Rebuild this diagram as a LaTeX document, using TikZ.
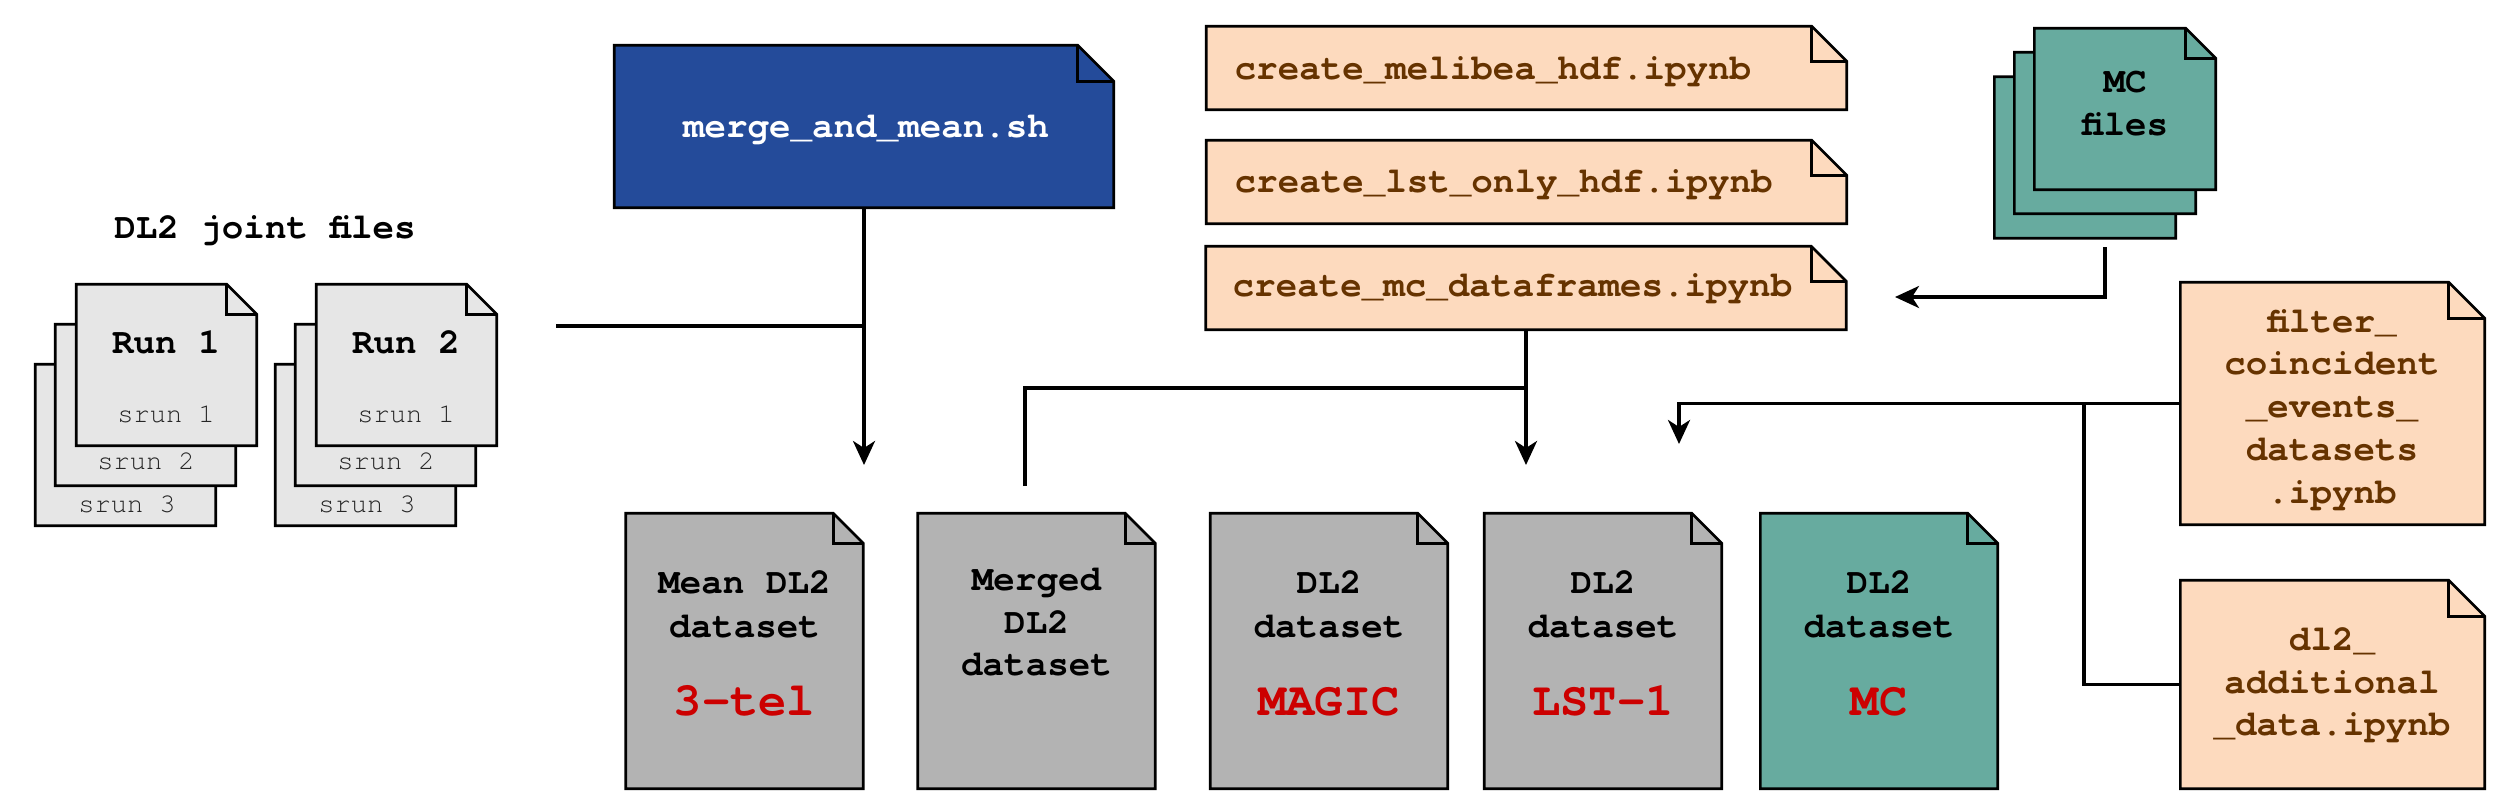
\documentclass[tikz,border=0pt]{standalone}
\usepackage{fontspec}
\newfontfamily\cour{TeX Gyre Cursor}
\usetikzlibrary{arrows.meta,calc}
\pgfdeclarelayer{bg}
\pgfsetlayers{bg,main}
\definecolor{sheetgray}{HTML}{E6E6E6}
\definecolor{boxgray}{HTML}{B3B3B3}
\definecolor{mcteal}{HTML}{67AB9F}
\definecolor{peach}{HTML}{FDDABE}
\definecolor{mblue}{HTML}{244B9A}
\definecolor{nbrown}{HTML}{663300}
\definecolor{dred}{HTML}{CC0000}
\newcommand\notefold[3]{%
  \filldraw[fill=#3, draw=black, line width=0.75pt, line join=miter]
    (#1.north west) -- ($(#1.north east)+(-#2,0)$) -- ($(#1.north east)+(0,#2)$)
    -- (#1.south east) -- (#1.south west) -- cycle;
  \draw[line width=0.75pt, line join=miter] ($(#1.north east)+(-#2,0)$) -- ($(#1.north east)+(-#2,#2)$) -- ($(#1.north east)+(0,#2)$);
}
\tikzset{
  box/.style 2 args={draw=none, fill=none, inner sep=0, minimum width=#1*0.01cm, minimum height=#2*0.01cm},
  lbl/.style={font=\cour\bfseries\fontsize{10.2}{12}\selectfont, inner sep=0, anchor=base},
  small/.style={font=\cour\fontsize{7.7}{9}\selectfont, inner sep=0, anchor=base, text=black!85},
  redlbl/.style={font=\cour\bfseries\fontsize{13.4}{15}\selectfont, inner sep=0, anchor=base, text=dred},
  conn/.style={line width=1pt, draw=black, line join=miter},
  arr/.style={conn, -{Stealth[length=0.24cm, width=0.22cm, inset=0.07cm]}},
}
\begin{document}
\begin{tikzpicture}[x=0.01cm, y=-0.01cm]
\useasboundingbox (0,0) rectangle (2500,806);

% ---------- DL2 joint files ----------
\node[lbl] (jtitle) at (265,238) {DL2 joint files};
\node[box={179}{160}] (r1c) at (125.5,445) {};
\node[box={179}{160}] (r1b) at (145.5,405) {};
\node[box={179}{160}] (r1a) at (166.5,365) {};
\node[box={179}{160}] (r2c) at (365.5,445) {};
\node[box={179}{160}] (r2b) at (385.5,405) {};
\node[box={179}{160}] (r2a) at (406.5,365) {};
\node[lbl] (r1t) at (166,353) {Run 1};
\node[small] (r1s1) at (166,422) {srun 1};
\node[small] (r1s2) at (146,469) {srun 2};
\node[small] (r1s3) at (127,512) {srun 3};
\node[lbl] (r2t) at (406,353) {Run 2};
\node[small] (r2s1) at (406,422) {srun 1};
\node[small] (r2s2) at (386,469) {srun 2};
\node[small] (r2s3) at (367,512) {srun 3};

% ---------- merge script ----------
\node[box={498}{161}] (merge) at (864,126.5) {};
\node[lbl, text=white] (mergetxt) at (866,137) {merge\_and\_mean.sh};

% ---------- notebooks ----------
\node[box={639}{82}] (melibea) at (1526.5,68) {};
\node[box={639}{82}] (lstonly) at (1526.5,182) {};
\node[box={639}{82}] (mcdf) at (1526,288) {};
\node[lbl, anchor=base west, text=nbrown] at (1234,79) {create\_melibea\_hdf.ipynb};
\node[lbl, anchor=base west, text=nbrown] at (1234,192) {create\_lst\_only\_hdf.ipynb};
\node[lbl, anchor=base west, text=nbrown] at (1232,296) {create\_mc\_dataframes.ipynb};

% ---------- MC files ----------
\node[box={180}{160}] (mcc) at (2085,157.5) {};
\node[box={180}{160}] (mcb) at (2105,133) {};
\node[box={180}{160}] (mca) at (2125,109) {};
\node[lbl] at (2125,92) {MC};
\node[lbl] at (2125,135) {files};

% ---------- filter / dl2 additional ----------
\node[box={303}{241}] (filter) at (2332.5,403.5) {};
\node[lbl, text=nbrown] at (2332,332) {filter\_};
\node[lbl, text=nbrown] at (2332,374) {coincident};
\node[lbl, text=nbrown] at (2332,417) {\_events\_};
\node[lbl, text=nbrown] at (2332,460) {datasets};
\node[lbl, text=nbrown] at (2332,503) {.ipynb};
\node[box={303}{207}] (dladd) at (2332.5,684.5) {};
\node[lbl, text=nbrown] at (2332,650) {dl2\_};
\node[lbl, text=nbrown] at (2332,693) {additional};
\node[lbl, text=nbrown] at (2332,735) {\_data.ipynb};

% ---------- datasets ----------
\node[box={236}{274}] (mean) at (744.5,651) {};
\node[box={236}{274}] (merged) at (1036.5,651) {};
\node[box={236}{274}] (magic) at (1329,651) {};
\node[box={236}{274}] (lst) at (1603,651) {};
\node[box={236}{274}] (mc) at (1879,651) {};
\node[lbl] at (744.5,593) {Mean DL2};
\node[lbl] at (744.5,637) {dataset};
\node[redlbl] at (744.5,715) {3-tel};
\node[lbl] at (1036.5,590) {Merged};
\node[lbl] at (1036.5,633) {DL2};
\node[lbl] at (1036.5,675) {dataset};
\node[lbl] at (1329,593) {DL2};
\node[lbl] at (1329,637) {dataset};
\node[redlbl] at (1329,715) {MAGIC};
\node[lbl] at (1603,593) {DL2};
\node[lbl] at (1603,637) {dataset};
\node[redlbl] at (1603,715) {LST-1};
\node[lbl] at (1879,593) {DL2};
\node[lbl] at (1879,637) {dataset};
\node[redlbl] at (1879,715) {MC};

% ---------- shapes on background ----------
\begin{pgfonlayer}{bg}
  \notefold{r1c}{30}{sheetgray}
  \notefold{r1b}{30}{sheetgray}
  \notefold{r1a}{30}{sheetgray}
  \notefold{r2c}{30}{sheetgray}
  \notefold{r2b}{30}{sheetgray}
  \notefold{r2a}{30}{sheetgray}
  \notefold{merge}{36}{mblue}
  \notefold{melibea}{35}{peach}
  \notefold{lstonly}{35}{peach}
  \notefold{mcdf}{35}{peach}
  \notefold{mcc}{30}{mcteal}
  \notefold{mcb}{30}{mcteal}
  \notefold{mca}{30}{mcteal}
  \notefold{filter}{36}{peach}
  \notefold{dladd}{36}{peach}
  \notefold{mean}{30}{boxgray}
  \notefold{merged}{30}{boxgray}
  \notefold{magic}{30}{boxgray}
  \notefold{lst}{30}{boxgray}
  \notefold{mc}{30}{mcteal}
\end{pgfonlayer}

% ---------- connectors ----------
\coordinate (jointout) at (556,326);
\coordinate (meanin) at (864,465);
\coordinate (lstin) at (1526,465);
\coordinate (mergedout) at (1025,486);
\coordinate (mj) at (1526,388);
\coordinate (mcout) at (2105,247);
\coordinate (mcin) at (1895,297);
\coordinate (filtin) at (1679,444);
\coordinate (fj) at (2084,403.5);

\draw[arr] (merge.south) -- (meanin);
\draw[conn] (jointout) -- (jointout -| merge.south);
\draw[arr] (mcdf.south) -- (lstin);
\draw[conn] (mergedout) |- (mj);
\draw[arr] (mcout) |- (mcin);
\draw[arr] (filter.west) -| (filtin);
\draw[conn] (dladd.west) -| (fj);
\end{tikzpicture}
\end{document}
